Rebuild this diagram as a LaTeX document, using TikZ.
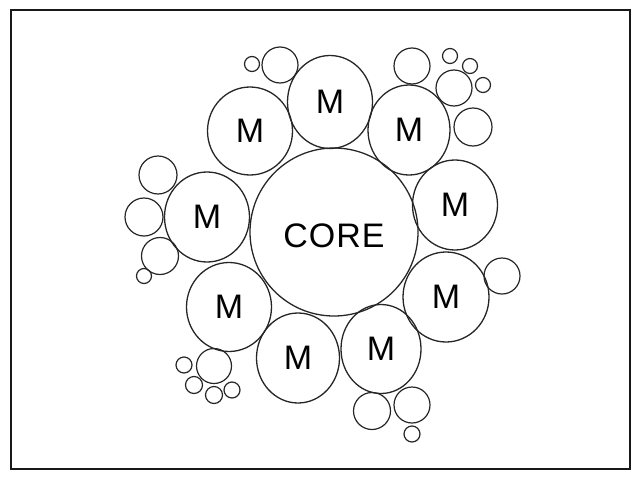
\documentclass[tikz,border=0pt]{standalone}
\usepackage{fontspec}
\setmainfont{Liberation Sans}
\usetikzlibrary{shapes.geometric}

\tikzset{
  core/.style={circle, draw=black!85, line width=1.3pt, minimum size=168pt,
    inner sep=0pt, text height=31pt, text depth=0pt,
    font=\fontsize{34}{34}\selectfont\addfontfeature{LetterSpace=3}},
  mol/.style={ellipse, draw=black!85, line width=1.3pt, minimum width=85pt,
    minimum height=90pt, inner sep=0pt, font=\fontsize{34}{34}\selectfont},
  bub/.style={draw=black!85, line width=1.2pt}
}

\begin{document}
\begin{tikzpicture}[x=1pt, y=-1pt]
  \useasboundingbox (0,0) rectangle (636,479);
  % frame
  \draw[line width=2.5pt, black!90] (11,10) rectangle (630,469);

  % core and its ring of M
  \node[core] (core) at (334,232) {CORE};
  \node[mol, minimum height=93pt] (mT) at (330,102) {M};
  \node[mol, minimum height=88pt] (mTL) at (250,131) {M};
  \node[mol, minimum width=82pt] (mTR) at (409,130) {M};
  \node[mol] (mR) at (455,205) {M};
  \node[mol] (mL) at (207,217) {M};
  \node[mol, minimum width=86pt] (mLR) at (446,297) {M};
  \node[mol, minimum height=89pt] (mLL) at (229,307) {M};
  \node[mol, minimum width=83pt] (mB) at (298,358) {M};
  \node[mol, minimum width=80pt, minimum height=89pt] (mBR) at (381,349) {M};

  % small bubbles round the ring
  \foreach \x/\y/\r in {280/65/18, 252/64/7.5, 412/66/18, 454/88/18,
      450/56/7.5, 470/66/7.5, 483/85/7.5, 473/127/19, 502/276/18,
      158/175/19, 144/217/19, 160/256/18.5, 144/276/7.5,
      214/366/17.5, 184/365/8, 194/385/8.5, 214/395/8.5, 232/390/8,
      372/411/18.5, 412/405/18, 412/434/8}
    \draw[bub] (\x,\y) circle[radius=\r pt];
\end{tikzpicture}
\end{document}
